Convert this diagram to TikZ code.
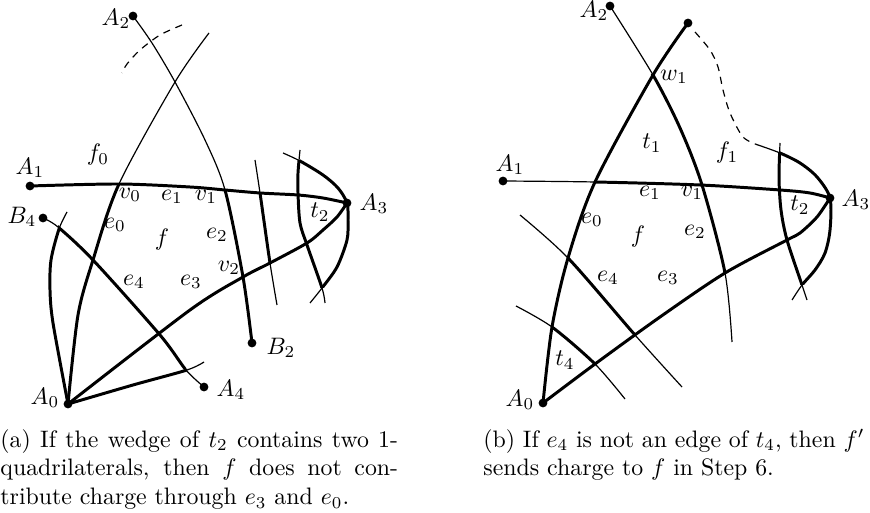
\documentclass[tikz,border=0pt]{standalone}
\begin{document}
\begin{tikzpicture}[x=0.42pt,y=-0.42pt,
  thn/.style={line width=0.5pt},
  thk/.style={line width=1.25pt},
  dsh/.style={line width=0.5pt,dash pattern=on 3pt off 2.5pt},
  dot/.style={circle,fill,inner sep=0pt,minimum size=3.7pt},
  lbl/.style={inner sep=0pt}]
\useasboundingbox (0,0) rectangle (870,513);
% ================= (a) =================
\node[dot] (A2) at (133,16) {};
\node[dot] (A1) at (30,186) {};
\node[dot] (A3) at (347,203) {};
\node[dot] (A0) at (68,404) {};
\node[dot] (B4) at (43,218) {};
\node[dot] (B2) at (252,343) {};
\node[dot] (A4) at (204,387) {};
\coordinate (v0) at (119,184);
\coordinate (v1) at (225,190);
% A2 -- B2
\def\pathAB{(A2.center) (152,43) (175,82) (205,140) (v1) (243,277) (B2.center)}
\draw[thn] plot[smooth] coordinates {\pathAB};
\begin{scope}\clip (0,190) rectangle (400,400);
\draw[thk] plot[smooth] coordinates {\pathAB};
\end{scope}
% curve through v0 to A0
\def\pathVA{(209,33) (175,82) (v0) (93,260) (78,315) (A0.center)}
\draw[thn] plot[smooth] coordinates {\pathVA};
\begin{scope}\clip (0,184) rectangle (400,420);
\draw[thk] plot[smooth] coordinates {\pathVA};
\end{scope}
% dashed arc
\draw[dsh] plot[smooth] coordinates {(182,25) (160,35) (140,50) (127,64) (122,73)};
% A1 -- A3
\draw[thk] plot[smooth] coordinates {(A1.center) (v0) (190,187) (v1) (260,193) (298,195) (323,198) (A3.center)};
% arc of t2 through A3
\def\pathArc{(283,153) (300,161) (323,175) (338,188) (A3.center) (348,220) (347,240) (337,267) (322,288) (310,303)}
\draw[thn] plot[smooth] coordinates {\pathArc};
\begin{scope}\clip (300,0) rectangle (400,288);
\draw[thk] plot[smooth] coordinates {\pathArc};
\end{scope}
% left side of t2
\def\pathTL{(300,150) (298,173) (298,193) (300,223) (307,245) (322,288) (325,303)}
\draw[thn] plot[smooth] coordinates {\pathTL};
\begin{scope}\clip (250,161) rectangle (400,288);
\draw[thk] plot[smooth] coordinates {\pathTL};
\end{scope}
% middle line
\def\pathMid{(255,160) (260,193) (270,263) (277,305)}
\draw[thn] plot[smooth] coordinates {\pathMid};
\begin{scope}\clip (240,193) rectangle (300,263);
\draw[thk] plot[smooth] coordinates {\pathMid};
\end{scope}
% A3 -- A0
\draw[thk] plot[smooth] coordinates {(A3.center) (337,217) (323,230) (307,243) (270,263) (243,277) (190,310) (A0.center)};
% B4 -- A4
\def\pathBA{(B4.center) (58,227) (93,260) (160,335) (186,370) (A4.center)}
\draw[thn] plot[smooth] coordinates {\pathBA};
\begin{scope}\clip (58,200) rectangle (186,400);
\draw[thk] plot[smooth] coordinates {\pathBA};
\end{scope}
% leftmost curve
\def\pathLeft{(67,212) (59,229) (51,260) (50,290) (53,323) (A0.center)}
\draw[thn] plot[smooth] coordinates {\pathLeft};
\begin{scope}\clip (0,229) rectangle (120,420);
\draw[thk] plot[smooth] coordinates {\pathLeft};
\end{scope}
% bottom curve
\def\pathBot{(A0.center) (133,385) (187,370) (204,362)}
\draw[thn] plot[smooth] coordinates {\pathBot};
\begin{scope}\clip (50,340) rectangle (187,420);
\draw[thk] plot[smooth] coordinates {\pathBot};
\end{scope}
% labels (a)
\node[lbl] (lA2) at (116,19) {$A_2$};
\node[lbl] (lA1) at (30,168) {$A_1$};
\node[lbl] (lB4) at (22,217) {$B_4$};
\node[lbl] (lA0) at (45,398) {$A_0$};
\node[lbl] (lA3) at (374,204) {$A_3$};
\node[lbl] (lB2) at (281,348) {$B_2$};
\node[lbl] (lA4) at (231,390) {$A_4$};
\node[lbl] (lf0) at (98,155) {$f_0$};
\node[lbl] (lv0) at (130,195) {$v_0$};
\node[lbl] (le1a) at (172,197) {$e_1$};
\node[lbl] (lv1a) at (206,197) {$v_1$};
\node[lbl] (le0a) at (115,225) {$e_0$};
\node[lbl] (lfa) at (162,240) {$f$};
\node[lbl] (le2a) at (217,235) {$e_2$};
\node[lbl] (le4a) at (134,282) {$e_4$};
\node[lbl] (le3a) at (191,282) {$e_3$};
\node[lbl] (lv2) at (229,268) {$v_2$};
\node[lbl] (lt2a) at (320,212) {$t_2$};
% ================= (b) =================
\node[dot] (bA2) at (610,6) {};
\node[dot] (bT) at (688,23) {};
\node[dot] (bA1) at (503,181) {};
\node[dot] (bA3) at (830,198) {};
\node[dot] (bA0) at (543,403) {};
\coordinate (w1) at (653,75);
\coordinate (bv0) at (595,182);
% A2 line through w1, v1
\def\pathBW{(bA2.center) (w1) (680,128) (702,185) (725,273) (732,342)}
\draw[thn] plot[smooth] coordinates {\pathBW};
\begin{scope}\clip (600,75) rectangle (760,273);
\draw[thk] plot[smooth] coordinates {\pathBW};
\end{scope}
% big thick curve
\draw[thk] plot[smooth] coordinates {(bT.center) (w1) (bv0) (568,258) (552,327) (bA0.center)};
% dashed
\draw[dsh] plot[smooth] coordinates {(695,32) (710,50) (718,67) (723,90) (730,113) (743,137) (758,145)};
% arc of t2 through A3
\def\pathBArc{(758,145) (780,153) (800,163) (817,177) (bA3.center) (830,230) (825,253) (815,270) (802,285) (792,300)}
\draw[thn] plot[smooth] coordinates {\pathBArc};
\begin{scope}\clip (780,100) rectangle (870,285);
\draw[thk] plot[smooth] coordinates {\pathBArc};
\end{scope}
% A1 -- A3
\def\pathBH{(bA1.center) (bv0) (700,185) (780,190) (810,193) (bA3.center)}
\draw[thn] plot[smooth] coordinates {\pathBH};
\begin{scope}\clip (595,150) rectangle (870,230);
\draw[thk] plot[smooth] coordinates {\pathBH};
\end{scope}
% t2 left
\def\pathBTL{(780,143) (779,178) (781,210) (787,240) (802,285) (807,300)}
\draw[thn] plot[smooth] coordinates {\pathBTL};
\begin{scope}\clip (760,154) rectangle (830,285);
\draw[thk] plot[smooth] coordinates {\pathBTL};
\end{scope}
% A3 -- A0
\draw[thk] plot[smooth] coordinates {(bA3.center) (817,217) (800,233) (787,240) (725,273) (660,317) (595,364) (bA0.center)};
% e4 line
\def\pathEF{(520,215) (568,258) (635,335) (682,387)}
\draw[thn] plot[smooth] coordinates {\pathEF};
\begin{scope}\clip (568,200) rectangle (635,400);
\draw[thk] plot[smooth] coordinates {\pathEF};
\end{scope}
% t4 line
\def\pathTF{(516,306) (552,327) (595,364) (625,399)}
\draw[thn] plot[smooth] coordinates {\pathTF};
\begin{scope}\clip (552,300) rectangle (595,400);
\draw[thk] plot[smooth] coordinates {\pathTF};
\end{scope}
% labels (b)
\node[lbl] (blA2) at (594,11) {$A_2$};
\node[lbl] (blA1) at (510,165) {$A_1$};
\node[lbl] (blA3) at (856,200) {$A_3$};
\node[lbl] (blA0) at (520,400) {$A_0$};
\node[lbl] (lw1) at (674,77) {$w_1$};
\node[lbl] (lt1) at (652,143) {$t_1$};
\node[lbl] (lf1) at (727,153) {$f_1$};
\node[lbl] (le1b) at (650,193) {$e_1$};
\node[lbl] (lv1b) at (692,193) {$v_1$};
\node[lbl] (le0b) at (592,220) {$e_0$};
\node[lbl] (lfb) at (638,237) {$f$};
\node[lbl] (le2b) at (695,232) {$e_2$};
\node[lbl] (le4b) at (608,278) {$e_4$};
\node[lbl] (le3b) at (668,278) {$e_3$};
\node[lbl] (lt2b) at (800,205) {$t_2$};
\node[lbl] (lt4) at (565,360) {$t_4$};
% captions
\node[anchor=north west,inner sep=0pt,text width=167pt,align=justify] (capa) at (0,429)
 {(a) If the wedge of $t_2$ contains two 1-\linebreak quadrilaterals, then $f$ does not con-\linebreak tribute charge through $e_3$ and $e_0$.};
\node[anchor=north west,inner sep=0pt,text width=160pt,align=justify] (capb) at (483,429)
 {(b) If $e_4$ is not an edge of $t_4$, then $f'$\linebreak sends charge to $f$ in Step 6.};
\end{tikzpicture}
\end{document}
